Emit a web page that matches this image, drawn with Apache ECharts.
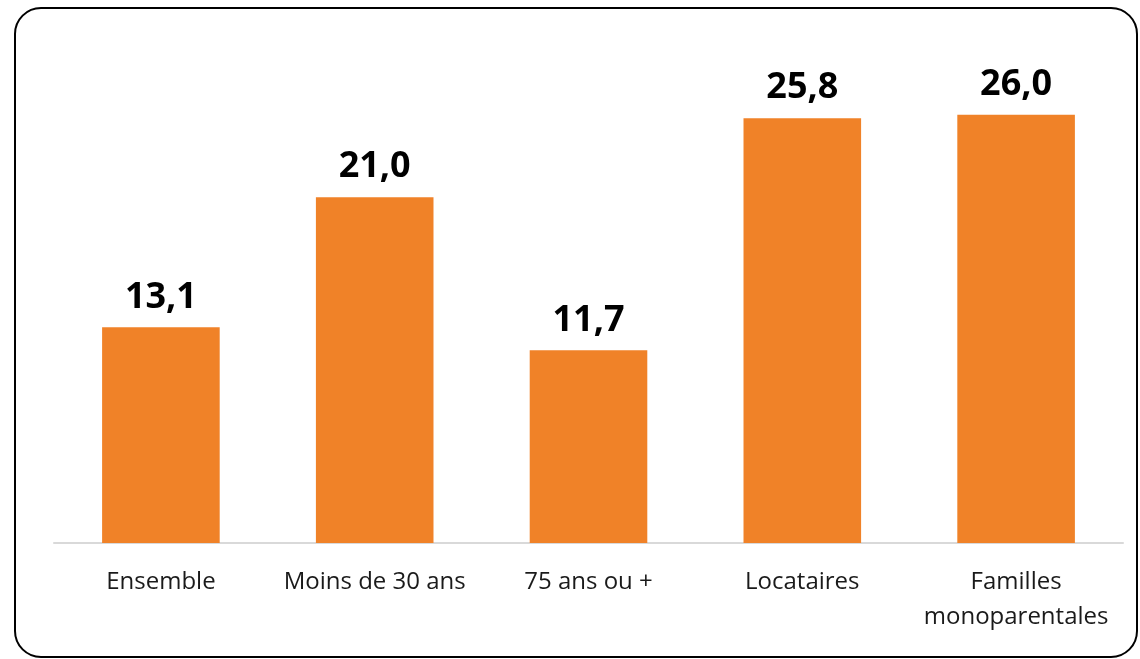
<!DOCTYPE html>
<html>
<head>
<meta charset="utf-8">
<script src="https://cdn.jsdelivr.net/npm/echarts@6/dist/echarts.min.js"></script>
<style>
  html, body { margin: 0; padding: 0; background: #fff; }
  #chart { width: 1140px; height: 659px; }
</style>
</head>
<body>
<div id="chart"></div>
<script>
const categories = ['Ensemble', 'Moins de 30 ans', '75 ans ou +', 'Locataires', 'Familles\nmonoparentales']
const values = [13.1, 21.0, 11.7, 25.8, 26.0]

const chart = echarts.init(document.getElementById('chart'))
chart.setOption({
  animation: false,
  textStyle: { fontFamily: '"Open Sans", "Noto Sans", sans-serif' },
  graphic: [
    {
      type: 'rect',
      shape: { x: 15, y: 8, width: 1122, height: 649, r: 26 },
      style: { fill: 'none', stroke: '#000', lineWidth: 2 },
      z: 100
    }
  ],
  grid: { left: 54, right: 17, top: 49, bottom: 116 },
  xAxis: {
    type: 'category',
    data: categories,
    axisLine: { lineStyle: { color: '#d9d9d9', width: 2 } },
    axisTick: { show: false },
    axisLabel: {
      interval: 0,
      margin: 22,
      fontSize: 24,
      lineHeight: 35,
      color: '#1a1a1a'
    }
  },
  yAxis: {
    type: 'value',
    min: 0,
    max: 30,
    show: false,
    splitLine: { show: false }
  },
  series: [
    {
      type: 'bar',
      data: values,
      barWidth: '55%',
      itemStyle: { color: '#f08228' },
      label: {
        show: true,
        position: 'top',
        distance: 12,
        fontSize: 36,
        fontWeight: 'bold',
        color: '#000',
        formatter: p => p.value.toFixed(1).replace('.', ',')
      }
    }
  ]
})
</script>
</body>
</html>
